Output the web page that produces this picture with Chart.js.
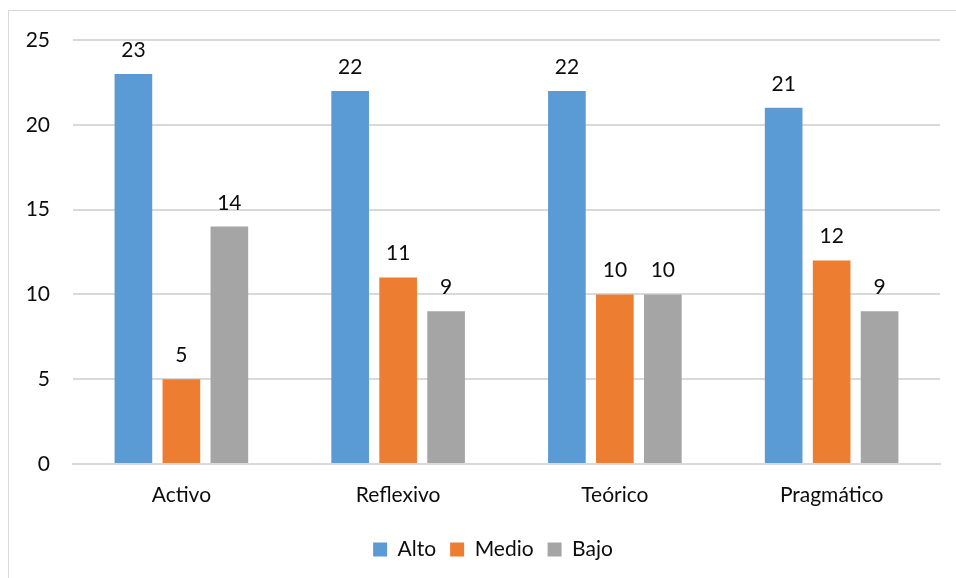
<!DOCTYPE html>
<html>
<head>
<meta charset="utf-8">
<script src="https://cdn.jsdelivr.net/npm/chart.js@4.4.0/dist/chart.umd.min.js"></script>
<style>
  html, body { margin: 0; padding: 0; background: #fff; overflow: hidden; }
  #frame { position: absolute; left: 8px; top: 10px; width: 980px; height: 600px; border: 1px solid #d9d9d9; }
  #wrap { position: absolute; left: 0; top: 0; width: 956px; height: 578px; }
</style>
</head>
<body>
<div id="frame"></div>
<div id="wrap"><canvas id="chart" width="956" height="578"></canvas></div>
<script>
const categories = ['Activo', 'Reflexivo', 'Teórico', 'Pragmático'];
const alto = [23, 22, 22, 21];
const medio = [5, 11, 10, 12];
const bajo = [14, 9, 10, 9];
const yTicks = [0, 5, 10, 15, 20, 25];

const FONT = 'Lato, "Open Sans", sans-serif';

// writes the value over each bar
const valueLabels = {
    id: 'valueLabels',
    afterDatasetsDraw(chart) {
        const ctx = chart.ctx;
        ctx.save();
        ctx.font = '21px ' + FONT;
        ctx.fillStyle = '#0d0d0d';
        ctx.textAlign = 'center';
        ctx.textBaseline = 'alphabetic';
        chart.data.datasets.forEach((ds, i) => {
            chart.getDatasetMeta(i).data.forEach((bar, j) => {
                ctx.fillText(ds.data[j], bar.x, bar.y - 17);
            });
        });
        ctx.restore();
    }
};

// legend sits a bit right of the canvas centre in the original
const shiftLegend = {
    id: 'shiftLegend',
    afterLayout(chart) {
        chart.legend.left += 23;
        chart.legend.right += 23;
    }
};

const ctx = document.getElementById('chart').getContext('2d');
const myChart = new Chart(ctx, {
    type: 'bar',
    data: {
        labels: categories,
        datasets: [
            { label: 'Alto', data: alto, backgroundColor: '#5B9BD5' },
            { label: 'Medio', data: medio, backgroundColor: '#ED7D31' },
            { label: 'Bajo', data: bajo, backgroundColor: '#A5A5A5' }
        ]
    },
    options: {
        responsive: false,
        animation: false,
        barPercentage: 0.785,
        categoryPercentage: 0.664,
        layout: { padding: { left: 0, right: 16, top: 40, bottom: 8 } },
        plugins: {
            tooltip: { enabled: false },
            legend: {
                position: 'bottom',
                labels: {
                    boxWidth: 14,
                    boxHeight: 14,
                    padding: 14,
                    color: '#0d0d0d',
                    font: { family: FONT, size: 21 }
                }
            }
        },
        scales: {
            x: {
                grid: { display: false, drawTicks: false },
                border: { display: true, color: '#d9d9d9', width: 2 },
                ticks: { color: '#0d0d0d', padding: 19, font: { family: FONT, size: 21 } },
                afterFit: (s) => { s.height = 61; }
            },
            y: {
                min: 0,
                max: 25,
                grid: { color: '#d9d9d9', lineWidth: 2, drawTicks: false },
                border: { display: false },
                afterBuildTicks: (s) => { s.ticks = yTicks.map(v => ({ value: v })); },
                ticks: { color: '#0d0d0d', padding: 23, font: { family: FONT, size: 21 } },
                afterFit: (s) => { s.width = 73; }
            }
        }
    },
    plugins: [valueLabels, shiftLegend]
});
</script>
</body>
</html>
